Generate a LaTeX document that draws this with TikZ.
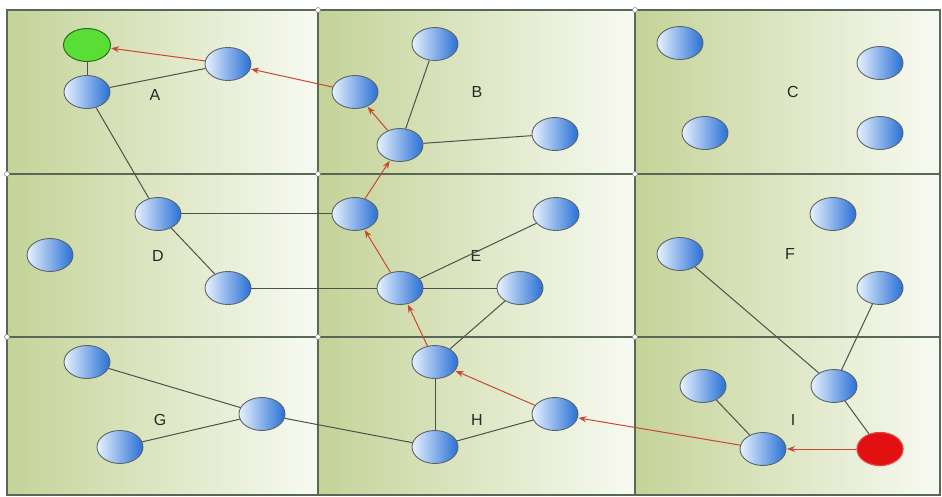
\documentclass[tikz,border=0pt]{standalone}
\usepackage{fontspec}
\setmainfont{Liberation Sans}
\usetikzlibrary{shapes.geometric,arrows.meta}
\definecolor{panelL}{RGB}{196,211,152}
\definecolor{panelM}{RGB}{228,235,205}
\definecolor{panelR}{RGB}{248,250,242}
\definecolor{panelB}{RGB}{88,104,84}
\definecolor{ballL}{RGB}{232,242,253}
\definecolor{ballM}{RGB}{128,178,238}
\definecolor{ballR}{RGB}{40,112,214}
\definecolor{ballB}{RGB}{90,100,105}
\definecolor{edgeC}{RGB}{75,82,75}
\definecolor{pathC}{RGB}{204,70,50}
\definecolor{startC}{RGB}{226,16,16}
\definecolor{goalC}{RGB}{88,222,52}
\definecolor{goalB}{RGB}{40,110,30}
\definecolor{labelC}{RGB}{40,40,40}
\begin{document}
\begin{tikzpicture}[x=1pt,y=-1pt,
  panel/.style={left color=panelL, middle color=panelM, right color=panelR, draw=panelB, line width=1.6pt},
  joint/.style={circle, minimum size=5pt, inner sep=0pt, fill=white, draw=gray, line width=0.5pt},
  ballnode/.style={ellipse, minimum width=46pt, minimum height=33pt, inner sep=0pt, draw=ballB, line width=0.9pt, left color=ballL, middle color=ballM, right color=ballR},
  goalnode/.style={ellipse, minimum width=47pt, minimum height=33pt, inner sep=0pt, draw=goalB, line width=1pt, fill=goalC},
  startnode/.style={ellipse, minimum width=46pt, minimum height=33pt, inner sep=0pt, draw=startC!80!white, line width=1.2pt, fill=startC},
  lbl/.style={font=\fontsize{16}{16}\selectfont, text=labelC, inner sep=0pt},
  link/.style={draw=edgeC, line width=1pt},
  route/.style={draw=pathC, line width=1pt, -{Stealth[length=8pt,width=6pt]}, shorten >=0.5pt}
]
\useasboundingbox (0,0) rectangle (942,497);
% panels
\foreach \xa/\xb in {7/318,318/635,635/940}{
  \foreach \ya/\yb in {10/174,174/337,337/495}{
    \path[panel] (\xa,\ya) rectangle (\xb,\yb);
  }
}
\foreach \px in {318,635}{
  \foreach \py in {10,174,337}{
    \node[joint] at (\px,\py) {};
  }
}
\foreach \py in {174,337}{
  \node[joint] at (7,\py) {};
}
% labels
\node[lbl] (LA) at (155,95) {A};
\node[lbl] (LB) at (477,92) {B};
\node[lbl] (LC) at (793,92) {C};
\node[lbl] (LD) at (158,256) {D};
\node[lbl] (LE) at (476,256) {E};
\node[lbl] (LF) at (790,254) {F};
\node[lbl] (LG) at (160,420) {G};
\node[lbl] (LH) at (477,420) {H};
\node[lbl] (LI) at (793,420) {I};
% nodes
\node[goalnode] (goal) at (87,45) {};
\node[ballnode] (a1) at (87,92) {};
\node[ballnode] (a2) at (228,64) {};
\node[ballnode] (b1) at (355,92) {};
\node[ballnode] (b2) at (435,44) {};
\node[ballnode] (b3) at (400,145) {};
\node[ballnode] (b4) at (555,134) {};
\node[ballnode] (c1) at (680,43) {};
\node[ballnode] (c2) at (880,63) {};
\node[ballnode] (c3) at (705,133) {};
\node[ballnode] (c4) at (880,133) {};
\node[ballnode] (d1) at (158,214) {};
\node[ballnode] (d2) at (228,288) {};
\node[ballnode] (d3) at (50,255) {};
\node[ballnode] (e1) at (355,214) {};
\node[ballnode] (e2) at (556,214) {};
\node[ballnode] (e3) at (400,288) {};
\node[ballnode] (e4) at (520,288) {};
\node[ballnode] (f1) at (833,214) {};
\node[ballnode] (f2) at (680,254) {};
\node[ballnode] (f3) at (880,288) {};
\node[ballnode] (g1) at (87,362) {};
\node[ballnode] (g2) at (120,447) {};
\node[ballnode] (g3) at (262,414) {};
\node[ballnode] (h1) at (435,362) {};
\node[ballnode] (h2) at (435,447) {};
\node[ballnode] (h3) at (555,414) {};
\node[ballnode] (i1) at (834,386) {};
\node[ballnode] (i2) at (703,386) {};
\node[ballnode] (i3) at (763,449) {};
\node[startnode] (start) at (880,449) {};
% links
\draw[link] (goal) -- (a1);
\draw[link] (a1) -- (a2);
\draw[link] (a1) -- (d1);
\draw[link] (d1) -- (d2);
\draw[link] (d1) -- (e1);
\draw[link] (d2) -- (e3);
\draw[link] (b2) -- (b3);
\draw[link] (b3) -- (b4);
\draw[link] (e3) -- (e2);
\draw[link] (e3) -- (e4);
\draw[link] (e4) -- (h1);
\draw[link] (h1) -- (h2);
\draw[link] (h2) -- (h3);
\draw[link] (h2) -- (g3);
\draw[link] (g3) -- (g1);
\draw[link] (g3) -- (g2);
\draw[link] (f2) -- (i1);
\draw[link] (f3) -- (i1);
\draw[link] (i1) -- (start);
\draw[link] (i2) -- (i3);
% route
\draw[route] (start) -- (i3);
\draw[route] (i3) -- (h3);
\draw[route] (h3) -- (h1);
\draw[route] (h1) -- (e3);
\draw[route] (e3) -- (e1);
\draw[route] (e1) -- (b3);
\draw[route] (b3) -- (b1);
\draw[route] (b1) -- (a2);
\draw[route] (a2) -- (goal);
\end{tikzpicture}
\end{document}
